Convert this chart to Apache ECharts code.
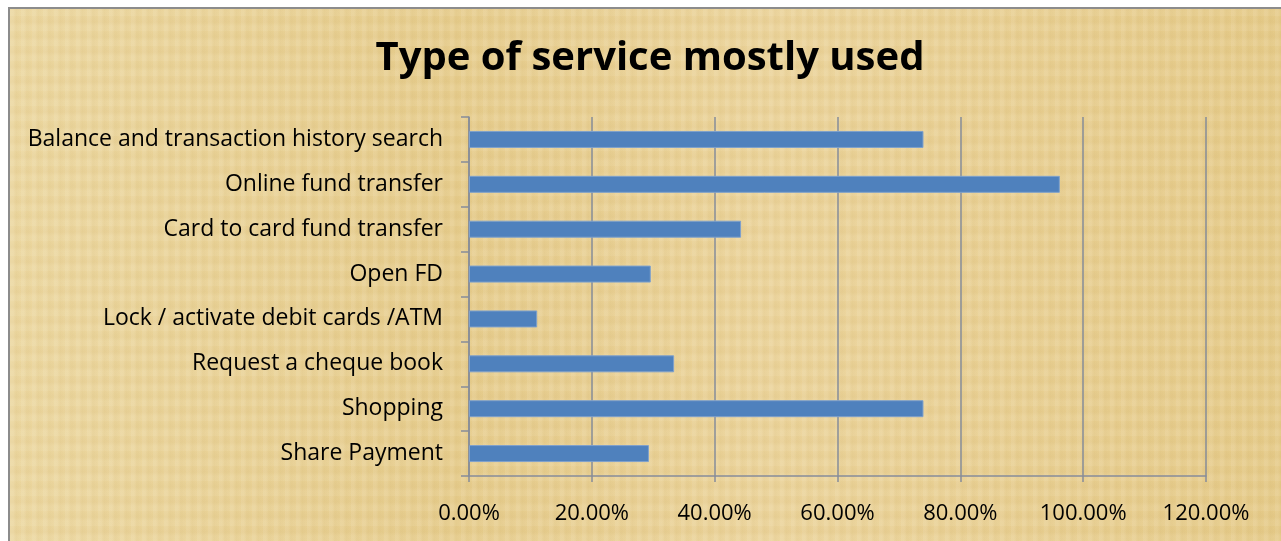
<!DOCTYPE html>
<html style="height: 100%">
<head>
<meta charset="utf-8">
<style>
  body { margin: 0; width: 1281px; height: 541px; background: #fff; position: relative; overflow: hidden; }
  #paper {
    position: absolute; left: 8px; top: 7px; right: 0; bottom: 0;
    border-left: 2px solid #8c8c8c; border-top: 2px solid #8c8c8c;
    background-color: #e9d093;
    background-image:
      repeating-linear-gradient(90deg, rgba(255,255,255,0.07) 0px, rgba(255,255,255,0.07) 3px, rgba(190,160,90,0.07) 6px, rgba(255,255,255,0) 11px),
      repeating-linear-gradient(0deg, rgba(255,250,230,0.08) 0px, rgba(255,250,230,0.08) 5px, rgba(200,170,100,0.07) 9px, rgba(255,255,255,0) 15px),
      linear-gradient(90deg, #ecd7a0 0%, #e6cc8c 35%, #ebd39a 60%, #e5ca88 100%);
  }
  #container { position: absolute; left: 0; top: 0; width: 1281px; height: 541px; }
</style>
</head>
<body>
<div id="paper"></div>
<div id="container"></div>
<script type="text/javascript" src="https://cdn.jsdelivr.net/npm/echarts@6/dist/echarts.min.js"></script>
<script type="text/javascript">
var categories = [
    'Balance and transaction history search',
    'Online fund transfer',
    'Card to card fund transfer',
    'Open FD',
    'Lock / activate debit cards /ATM',
    'Request a cheque book',
    'Shopping',
    'Share Payment'
];
var values = [0.74, 0.962, 0.443, 0.296, 0.111, 0.334, 0.74, 0.293];
var xTicks = [0, 0.2, 0.4, 0.6, 0.8, 1.0, 1.2];

var dom = document.getElementById("container");
var myChart = echarts.init(dom);

var option = {
    backgroundColor: 'transparent',
    animation: false,
    title: {
        text: 'Type of service mostly used',
        left: 645,
        top: 34,
        textAlign: 'center',
        textStyle: {
            fontFamily: 'Open Sans',
            fontWeight: 'bold',
            fontSize: 40,
            color: '#000'
        }
    },
    grid: {
        left: 469,
        right: 75,
        top: 117,
        bottom: 65
    },
    xAxis: {
        type: 'value',
        min: xTicks[0],
        max: xTicks[xTicks.length - 1],
        interval: 0.2,
        axisLine: { show: true, lineStyle: { color: '#868c99', width: 1.5 } },
        axisTick: { show: true, length: 6, lineStyle: { color: '#868c99', width: 1.5 } },
        splitLine: { show: true, lineStyle: { color: '#868c99', width: 1.5 } },
        axisLabel: {
            margin: 27,
            color: '#000',
            fontFamily: 'Open Sans',
            fontSize: 22,
            formatter: function (v) { return (v * 100).toFixed(2) + '%'; }
        }
    },
    yAxis: {
        type: 'category',
        inverse: true,
        data: categories,
        axisLine: { show: true, lineStyle: { color: '#868c99', width: 1.5 } },
        axisTick: { show: true, length: 8, lineStyle: { color: '#868c99', width: 1.5 } },
        axisLabel: {
            margin: 26,
            color: '#000',
            fontFamily: 'Open Sans',
            fontSize: 23,
            lineHeight: 23,
            padding: [6, 0, 0, 0]
        }
    },
    series: [{
        type: 'bar',
        data: values,
        barWidth: 17,
        itemStyle: {
            color: '#4f81bd',
            borderColor: '#7fa1cc',
            borderWidth: 1
        }
    }]
};

myChart.setOption(option, true);
</script>
</body>
</html>
